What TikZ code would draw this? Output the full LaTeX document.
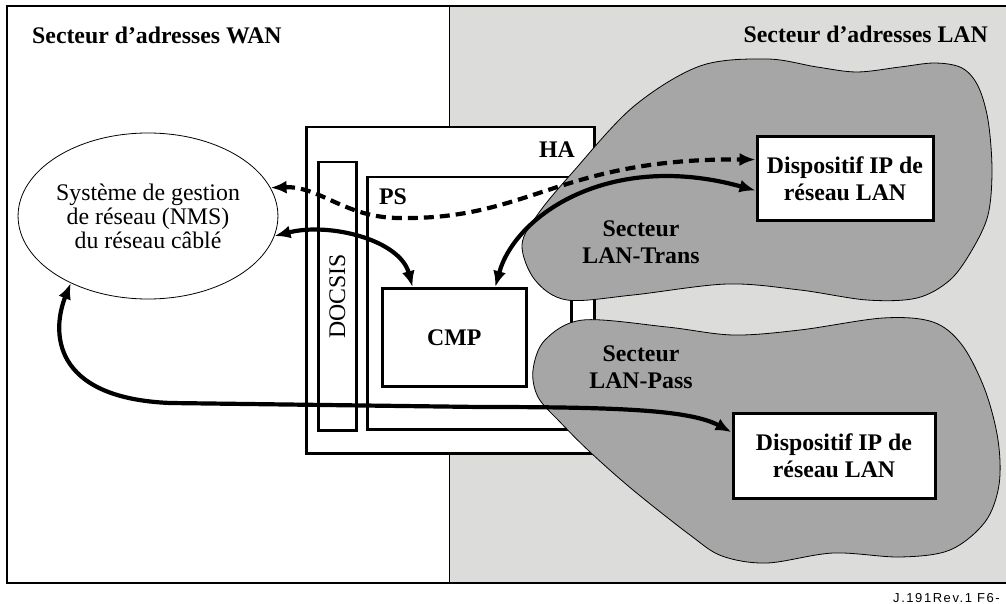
\documentclass[tikz,border=0pt]{standalone}
\usepackage{fontspec}
\setmainfont{Liberation Serif}
\setsansfont{Liberation Sans}
\usetikzlibrary{arrows.meta,shapes.geometric,calc}
\definecolor{langray}{HTML}{DCDCDB}
\definecolor{cloudgray}{HTML}{A6A6A6}
\newcommand\bigbold{\bfseries\fontsize{23.8}{27}\selectfont}
\begin{document}
\begin{tikzpicture}[x=1pt,y=-1pt,
  box/.style={draw,line width=2.5pt,fill=white,inner sep=0pt,anchor=north west},
  devbox/.style={draw,line width=3pt,fill=white,inner sep=0pt,align=center,font=\bigbold},
  lbl/.style={inner sep=0pt,align=center,font=\bigbold},
  cloudshape/.style={draw,line width=0.8pt,fill=cloudgray},
  link/.style={line width=4.2pt,{Latex[length=16pt,width=13pt]}-{Latex[length=16pt,width=13pt]}},
  dlink/.style={link,dash pattern=on 10pt off 6pt},
]
\clip (0,0) rectangle (1006,604);
% background and the two address sectors
\fill[white] (0,0) rectangle (1006,604);
\fill[langray] (449,6) rectangle (1012,583);
\draw[line width=0.8pt] (449,6) -- (449,583);
\draw[line width=1.3pt] (1012,6) -- (7,6) -- (7,583) -- (1012,583);

\node[anchor=base west,inner sep=0pt,font=\bigbold] (wan) at (32,44) {Secteur d’adresses WAN};
\node[anchor=base east,inner sep=0pt,font=\bigbold] (lan) at (988,43) {Secteur d’adresses LAN};

% network management system
\node[ellipse,draw,line width=0.8pt,fill=white,minimum width=257pt,minimum height=166pt,
  inner sep=0pt,align=center,font=\fontsize{23.8}{24}\selectfont] (nms) at (148,216)
  {Système de gestion\\de réseau (NMS)\\du réseau câblé};

% host adapter with its blocks
\node[box,minimum width=288pt,minimum height=326pt] (ha) at (305,126) {};
\node[box,minimum width=38pt,minimum height=268pt] (docsis) at (317,161) {};
\node[box,minimum width=204pt,minimum height=252pt] (ps) at (366,176) {};
\node[box,minimum width=144pt,minimum height=98pt,font=\bigbold] (cmp) at (381,287) {CMP};
\node[rotate=90,inner sep=0pt,font=\fontsize{23.8}{24}\selectfont] (docsislbl) at (docsis.center) {DOCSIS};
\node[lbl] (halbl) at (557,150) {HA};
\node[lbl] (pslbl) at (393,197) {PS};

% LAN realms
\draw[cloudshape] plot[smooth cycle,tension=0.55] coordinates {
  (522,245) (538,214) (572,173) (633,107) (700,66) (767,59) (817,67) (857,72)
  (900,67) (935,63) (962,68) (978,86) (988,120) (992,170) (988,215) (972,250)
  (950,280) (917,298) (867,300) (800,290) (727,284) (633,295) (567,300) (535,280)};
\draw[cloudshape] plot[smooth cycle,tension=0.55] coordinates {
  (545,340) (583,320) (667,327) (733,335) (800,330) (883,318) (933,322) (962,345)
  (985,390) (998,440) (999,485) (985,522) (950,550) (900,557) (833,553) (767,563)
  (722,556) (690,535) (633,490) (590,452) (560,422) (538,397) (533,370)};
\node[lbl] (trans) at (641,242) {Secteur\\LAN-Trans};
\node[lbl] (pass) at (641,367) {Secteur\\LAN-Pass};

% LAN IP devices
\node[devbox,minimum width=176pt,minimum height=83pt] (dev1) at (845,178.5) {Dispositif IP de\\réseau LAN};
\node[devbox,minimum width=202pt,minimum height=85pt] (dev2) at (834,455.5) {Dispositif IP de\\réseau LAN};

% management flows
\draw[dlink] (nms.13) .. controls (320,186) and (345,218) .. (400,218)
  .. controls (530,220) and (560,158) .. ($(dev1.north west)!0.28!(dev1.south west)$);
\draw[link] (nms.-9) .. controls (330,222) and (400,240) .. ($(cmp.north west)!0.215!(cmp.north east)$);
\draw[link] ($(cmp.north west)!0.78!(cmp.north east)$) .. controls (515,215) and (610,150) .. ($(dev1.north west)!0.64!(dev1.south west)$);
\draw[link] (nms.221) .. controls (52,330) and (50,398) .. (170,403) -- (480,407)
  .. controls (620,407) and (690,410) .. ($(dev2.north west)!0.235!(dev2.south west)$);

% figure reference
\node[anchor=base west,inner sep=0pt,font=\sffamily\fontsize{13}{13}\selectfont\addfontfeature{LetterSpace=12}] (ref) at (893,602) {J.191Rev.1 F6-};
\end{tikzpicture}
\end{document}
